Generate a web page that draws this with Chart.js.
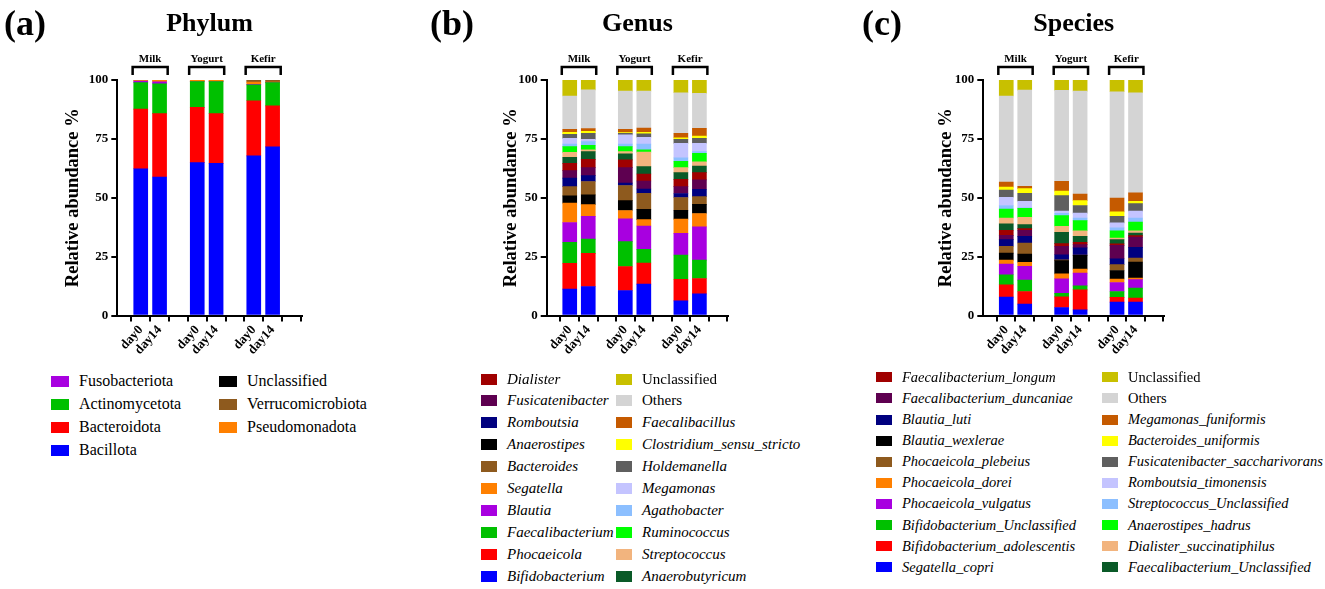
<!DOCTYPE html>
<html>
<head>
<meta charset="utf-8">
<script src="https://cdn.jsdelivr.net/npm/chart.js@4.4.1/dist/chart.umd.min.js"></script>
<style>
  body { margin: 0; background: #fff; width: 1325px; height: 589px; position: relative; overflow: hidden;
         font-family: 'Liberation Serif', 'Times New Roman', serif; color: #000; }
  canvas { position: absolute; top: 0; }
  .row { position: absolute; height: 20px; display: flex; align-items: center; white-space: nowrap;
         font-family: 'Liberation Serif', 'Times New Roman', serif; }
  .sw { display: inline-block; flex: none; }
</style>
</head>
<body>
<canvas id="cA" width="440" height="365" style="left:0"></canvas>
<canvas id="cB" width="440" height="365" style="left:420px"></canvas>
<canvas id="cC" width="475" height="365" style="left:850px"></canvas>
<div id="legends"></div>
<script>
const SERIF = "'Liberation Serif', 'Times New Roman', serif";
Chart.defaults.font.family = SERIF;
Chart.defaults.color = '#000';
Chart.defaults.responsive = false;
Chart.defaults.animation = false;

// x slots: three groups of two samples, one empty slot between groups
const xLabels = ['day0', 'day14', '', 'day0', 'day14', '', 'day0', 'day14', ''];
const samplePos = [0, 1, 3, 4, 6, 7];
const groups = ['Milk', 'Yogurt', 'Kefir'];
const groupPos = [[0, 1], [3, 4], [6, 7]];
const yTicks = [0, 25, 50, 75, 100];

// ---- Phylum (stack order, bottom -> top)
const phylumTaxa = ['Bacillota', 'Bacteroidota', 'Actinomycetota', 'Fusobacteriota',
  'Pseudomonadota', 'Verrucomicrobiota', 'Unclassified'];
const phylumMilk0    = [62.3, 25.3, 11.3, 0.6, 0.5, 0.0, 0.0];
const phylumMilk14   = [58.8, 26.9, 12.7, 0.8, 0.8, 0.0, 0.0];
const phylumYogurt0  = [64.9, 23.5, 10.9, 0.0, 0.7, 0.0, 0.0];
const phylumYogurt14 = [64.6, 21.1, 13.6, 0.0, 0.7, 0.0, 0.0];
const phylumKefir0   = [67.8, 23.4, 6.7, 0.3, 0.9, 0.9, 0.0];
const phylumKefir14  = [71.6, 17.4, 9.9, 0.0, 0.2, 0.9, 0.0];
const phylumLegend = [
  ['Fusobacteriota', 'Actinomycetota', 'Bacteroidota', 'Bacillota'],
  ['Unclassified', 'Verrucomicrobiota', 'Pseudomonadota']
];

// ---- Genus (stack order, bottom -> top)
const genusTaxa = ['Bifidobacterium', 'Phocaeicola', 'Faecalibacterium', 'Blautia', 'Segatella',
  'Anaerostipes', 'Bacteroides', 'Romboutsia', 'Fusicatenibacter', 'Dialister', 'Anaerobutyricum',
  'Streptococcus', 'Ruminococcus', 'Agathobacter', 'Megamonas', 'Holdemanella',
  'Clostridium_sensu_stricto', 'Faecalibacillus', 'Others', 'Unclassified'];
const genusMilk0    = [11.2, 11.0, 8.9, 8.4, 8.2, 3.1, 3.9, 3.6, 3.2, 3.1, 2.6, 2.1, 2.4, 1.1, 2.4, 1.7, 0.9, 1.3, 14.1, 6.8];
const genusMilk14   = [12.3, 14.1, 6.0, 9.7, 5.0, 4.1, 5.7, 2.5, 3.4, 3.5, 3.3, 0.7, 2.0, 1.5, 1.0, 2.6, 0.8, 1.2, 16.4, 4.2];
const genusYogurt0  = [10.6, 10.2, 10.6, 9.6, 3.6, 4.2, 6.4, 1.0, 6.6, 3.3, 2.5, 1.0, 2.1, 1.1, 3.9, 0.7, 0.3, 1.4, 16.2, 4.7];
const genusYogurt14 = [13.3, 9.0, 5.8, 9.9, 2.7, 4.4, 6.8, 1.8, 3.4, 3.0, 3.1, 6.2, 0.9, 2.5, 2.9, 1.4, 0.7, 1.8, 15.7, 4.7];
const genusKefir0   = [6.2, 9.2, 10.3, 9.2, 6.0, 3.8, 5.4, 1.7, 2.9, 3.1, 2.9, 2.1, 2.7, 1.4, 6.2, 1.7, 0.6, 2.0, 17.2, 5.4];
const genusKefir14  = [9.2, 6.5, 7.8, 14.1, 5.7, 3.9, 3.3, 3.1, 4.0, 3.1, 2.8, 1.8, 3.6, 0.7, 3.5, 2.1, 1.0, 3.3, 14.8, 5.7];
const genusLegend = [
  ['Dialister', 'Fusicatenibacter', 'Romboutsia', 'Anaerostipes', 'Bacteroides', 'Segatella',
   'Blautia', 'Faecalibacterium', 'Phocaeicola', 'Bifidobacterium'],
  ['Unclassified', 'Others', 'Faecalibacillus', 'Clostridium_sensu_stricto', 'Holdemanella',
   'Megamonas', 'Agathobacter', 'Ruminococcus', 'Streptococcus', 'Anaerobutyricum']
];

// ---- Species (stack order, bottom -> top)
const speciesTaxa = ['Segatella_copri', 'Bifidobacterium_adolescentis', 'Bifidobacterium_Unclassified',
  'Phocaeicola_vulgatus', 'Phocaeicola_dorei', 'Blautia_wexlerae', 'Phocaeicola_plebeius', 'Blautia_luti',
  'Faecalibacterium_duncaniae', 'Faecalibacterium_longum', 'Faecalibacterium_Unclassified',
  'Dialister_succinatiphilus', 'Anaerostipes_hadrus', 'Streptococcus_Unclassified', 'Romboutsia_timonensis',
  'Fusicatenibacter_saccharivorans', 'Bacteroides_uniformis', 'Megamonas_funiformis', 'Others', 'Unclassified'];
const speciesMilk0    = [7.8, 5.2, 4.3, 4.5, 1.7, 3.0, 2.9, 2.8, 1.8, 2.2, 2.7, 2.5, 3.8, 1.5, 3.5, 3.1, 1.2, 2.2, 36.5, 6.8];
const speciesMilk14   = [4.8, 5.4, 4.8, 5.9, 1.7, 3.5, 4.7, 2.8, 2.6, 0.7, 1.7, 3.1, 3.8, 0.2, 2.8, 3.4, 2.0, 1.0, 40.8, 4.3];
const speciesYogurt0  = [3.4, 4.5, 1.5, 6.2, 2.1, 5.6, 0.3, 2.2, 3.6, 1.1, 4.8, 2.6, 4.5, 1.0, 0.9, 6.6, 1.9, 4.2, 38.6, 4.4];
const speciesYogurt14 = [2.4, 8.5, 1.7, 5.4, 1.7, 5.8, 0.2, 3.0, 1.4, 1.0, 2.5, 2.4, 4.3, 1.1, 2.1, 3.2, 2.1, 2.8, 43.7, 4.7];
const speciesKefir0   = [5.7, 2.0, 2.5, 3.8, 1.5, 3.6, 2.5, 2.5, 5.7, 0.6, 1.8, 0.7, 3.1, 1.2, 2.1, 2.8, 1.9, 5.9, 45.1, 5.0];
const speciesKefir14  = [5.7, 1.7, 4.2, 3.6, 0.7, 6.8, 1.7, 4.5, 4.4, 0.6, 1.1, 1.0, 3.7, 1.7, 2.9, 3.2, 1.0, 3.6, 42.5, 5.4];
const speciesLegend = [
  ['Faecalibacterium_longum', 'Faecalibacterium_duncaniae', 'Blautia_luti', 'Blautia_wexlerae',
   'Phocaeicola_plebeius', 'Phocaeicola_dorei', 'Phocaeicola_vulgatus', 'Bifidobacterium_Unclassified',
   'Bifidobacterium_adolescentis', 'Segatella_copri'],
  ['Unclassified', 'Others', 'Megamonas_funiformis', 'Bacteroides_uniformis',
   'Fusicatenibacter_saccharivorans', 'Romboutsia_timonensis', 'Streptococcus_Unclassified',
   'Anaerostipes_hadrus', 'Dialister_succinatiphilus', 'Faecalibacterium_Unclassified']
];

// colours, parallel to the stack order
const phylumColors = ['#0000ff', '#ff0000', '#00c000', '#a800e0', '#ff8000', '#8e5a1e', '#000000'];
const stackColors = ['#0000ff', '#ff0000', '#00c000', '#a800e0', '#ff8000', '#000000', '#8e5a1e',
  '#00007f', '#5e0050', '#a00000', '#0a5a28', '#f2b47e', '#00ff00', '#8cbfff', '#c4c4ff',
  '#5f5f5f', '#ffff00', '#c55a00', '#d4d4d4', '#c8c000'];

// decorations: panel letter, title, y title, group brackets
const deco = {
  id: 'deco',
  afterDraw(chart, args, o) {
    const { ctx, chartArea: a } = chart;
    const x = chart.scales.x;
    ctx.save();
    ctx.fillStyle = '#000';
    ctx.strokeStyle = '#000';
    ctx.textBaseline = 'alphabetic';

    ctx.textAlign = 'left';
    ctx.font = `bold 36px ${SERIF}`;
    ctx.fillText(o.letter, o.letterX, 35);

    ctx.textAlign = 'center';
    ctx.font = `bold 26px ${SERIF}`;
    ctx.fillText(o.title, (a.left + a.right) / 2, 31);

    ctx.save();
    ctx.translate(a.left - o.yTitleGap, (a.top + a.bottom) / 2);
    ctx.rotate(-Math.PI / 2);
    ctx.textBaseline = 'middle';
    ctx.font = `bold 18.5px ${SERIF}`;
    ctx.fillText('Relative abundance %', 0, 0);
    ctx.restore();

    ctx.lineWidth = 2.5;
    ctx.font = `bold 11px ${SERIF}`;
    groups.forEach((g, i) => {
      const [p0, p1] = groupPos[i];
      const l = x.getPixelForValue(p0 - 0.43);
      const r = x.getPixelForValue(p1 + 0.43);
      ctx.beginPath();
      ctx.moveTo(l, 75); ctx.lineTo(l, 67); ctx.lineTo(r, 67); ctx.lineTo(r, 75);
      ctx.stroke();
      ctx.fillText(g, (l + r) / 2, 62);
    });
    ctx.restore();
  }
};

function makePanel(id, taxa, colors, samples, cfg) {
  const datasets = taxa.map((name, i) => ({
    label: name,
    data: samplePos.map((p, j) => ({ x: p, y: samples[j][i] })),
    backgroundColor: colors[i],
    borderWidth: 0,
    barThickness: 14
  }));
  new Chart(document.getElementById(id), {
    type: 'bar',
    data: { datasets },
    options: {
      layout: { padding: { left: cfg.padLeft, right: cfg.padRight, top: 80, bottom: 0 } },
      plugins: {
        legend: { display: false },
        tooltip: { enabled: false },
        deco: cfg
      },
      scales: {
        x: {
          type: 'linear', min: -0.7, max: 8, stacked: true,
          afterBuildTicks: s => { s.ticks = xLabels.map((_, i) => ({ value: i })); },
          afterFit: s => { s.height = 365 - 315.5; },
          ticks: {
            callback: v => xLabels[v] ?? '',
            minRotation: 48, maxRotation: 48, autoSkip: false, padding: 1,
            font: { weight: 'bold', size: 13 }
          },
          grid: { drawOnChartArea: false, tickLength: 6, color: '#000', lineWidth: 2 },
          border: { color: '#000', width: 2 }
        },
        y: {
          stacked: true, min: 0, max: 100,
          afterBuildTicks: s => { s.ticks = yTicks.map(v => ({ value: v })); },
          afterFit: s => { s.width = cfg.yWidth; },
          ticks: { font: { weight: 'bold', size: 13 }, padding: 3 },
          grid: { drawOnChartArea: false, tickLength: 6, color: '#000', lineWidth: 2 },
          border: { color: '#000', width: 2 }
        }
      }
    },
    plugins: [deco]
  });
}

makePanel('cA', phylumTaxa, phylumColors,
  [phylumMilk0, phylumMilk14, phylumYogurt0, phylumYogurt14, phylumKefir0, phylumKefir14],
  { letter: '(a)', letterX: 4, title: 'Phylum', yTitleGap: 44, padLeft: 60, yWidth: 57.3, padRight: 138.3 });
makePanel('cB', genusTaxa, stackColors,
  [genusMilk0, genusMilk14, genusYogurt0, genusYogurt14, genusKefir0, genusKefir14],
  { letter: '(b)', letterX: 10, title: 'Genus', yTitleGap: 35, padLeft: 70, yWidth: 56.7, padRight: 132 });
makePanel('cC', speciesTaxa, stackColors,
  [speciesMilk0, speciesMilk14, speciesYogurt0, speciesYogurt14, speciesKefir0, speciesKefir14],
  { letter: '(c)', letterX: 12, title: 'Species', yTitleGap: 37, padLeft: 70, yWidth: 63.3, padRight: 161 });

// HTML legends
function makeLegend(cols, taxa, colors, L) {
  const host = document.getElementById('legends');
  cols.forEach((col, c) => {
    col.forEach((name, r) => {
      const row = document.createElement('div');
      row.className = 'row';
      row.style.left = L.sx[c] + 'px';
      row.style.top = (L.y0 + r * L.dy - 10) + 'px';
      row.style.fontSize = L.size + 'px';
      const sw = document.createElement('span');
      sw.className = 'sw';
      sw.style.width = L.sw + 'px';
      sw.style.height = L.sh + 'px';
      sw.style.marginRight = (L.gap - L.sw) + 'px';
      sw.style.background = colors[taxa.indexOf(name)];
      const t = document.createElement('span');
      t.textContent = name;
      if (L.italic && name !== 'Unclassified' && name !== 'Others') t.style.fontStyle = 'italic';
      row.appendChild(sw);
      row.appendChild(t);
      host.appendChild(row);
    });
  });
}

makeLegend(phylumLegend, phylumTaxa, phylumColors,
  { sx: [51, 219], y0: 381, dy: 23, sw: 18, sh: 11, gap: 28, size: 16, italic: false });
makeLegend(genusLegend, genusTaxa, stackColors,
  { sx: [481, 616], y0: 379, dy: 21.97, sw: 16, sh: 11, gap: 26, size: 15, italic: true });
makeLegend(speciesLegend, speciesTaxa, stackColors,
  { sx: [876, 1102], y0: 377.3, dy: 21.1, sw: 16, sh: 10, gap: 26, size: 14.5, italic: true });
</script>
</body>
</html>
